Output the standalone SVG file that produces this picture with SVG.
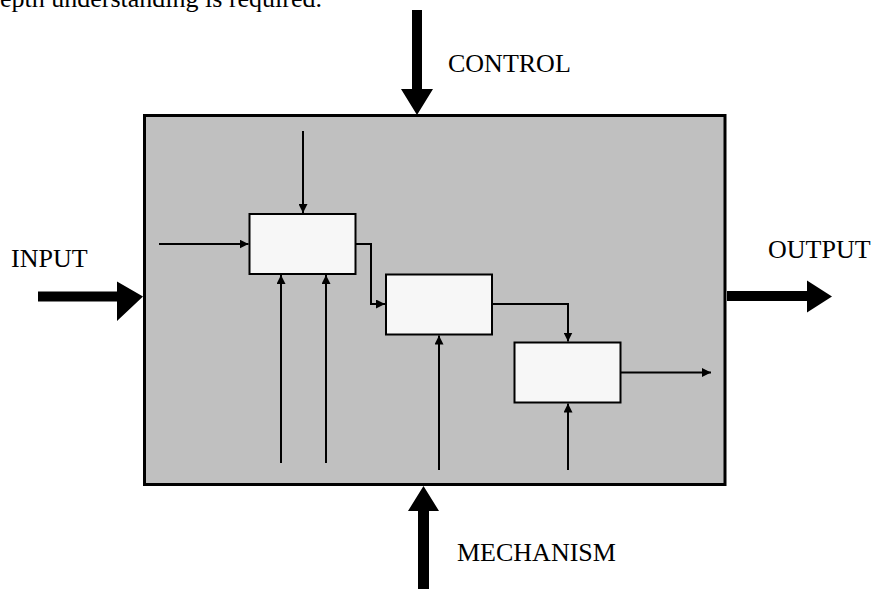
<svg xmlns="http://www.w3.org/2000/svg" width="875" height="589" viewBox="0 0 875 589">
<style>
.t{font-family:"Liberation Serif","Times New Roman",serif;font-size:26px;fill:#000}
.box{fill:#F7F7F7;stroke:#000;stroke-width:2}
.ln{fill:none;stroke:#000;stroke-width:2}
.big{fill:#000;stroke:none}
</style>
<defs>
<marker id="ah" viewBox="0 0 10 10" refX="10" refY="5" markerWidth="9" markerHeight="9" markerUnits="userSpaceOnUse" orient="auto">
<path d="M0,0 L10,5 L0,10 Z" fill="#000"/>
</marker>
</defs>
<rect width="875" height="589" fill="#fff"/>
<text class="t" x="0" y="7">epth understanding is required.</text>
<g id="outer">
<rect x="144.5" y="115.5" width="580.5" height="369" fill="#C0C0C0" stroke="#000" stroke-width="3"/>
</g>
<g id="box1"><rect class="box" x="249.5" y="214" width="106" height="60"/></g>
<g id="box2"><rect class="box" x="386" y="274.5" width="106" height="60"/></g>
<g id="box3"><rect class="box" x="514.5" y="342.5" width="106" height="60"/></g>
<g id="connectors">
<line class="ln" x1="303" y1="131" x2="303" y2="213" marker-end="url(#ah)"/>
<line class="ln" x1="159" y1="244" x2="248.5" y2="244" marker-end="url(#ah)"/>
<polyline class="ln" points="356,244 371,244 371,304 385,304" marker-end="url(#ah)"/>
<line class="ln" x1="281" y1="463" x2="281" y2="275" marker-end="url(#ah)"/>
<line class="ln" x1="326" y1="463" x2="326" y2="275" marker-end="url(#ah)"/>
<line class="ln" x1="439" y1="470" x2="439" y2="335.5" marker-end="url(#ah)"/>
<polyline class="ln" points="492,304 568,304 568,341.5" marker-end="url(#ah)"/>
<line class="ln" x1="568" y1="470" x2="568" y2="403.5" marker-end="url(#ah)"/>
<line class="ln" x1="621" y1="372.5" x2="711" y2="372.5" marker-end="url(#ah)"/>
</g>
<g id="control">
<path class="big" d="M412,10 H422 V89 H433 L417,115 L401,89 H412 Z"/>
<text class="t" x="448" y="72">CONTROL</text>
</g>
<g id="input">
<path class="big" d="M38,291.5 H117 V281.5 L143,296.5 L117,321 V301.5 H38 Z"/>
<text class="t" x="11" y="267">INPUT</text>
</g>
<g id="output">
<path class="big" d="M727,291 H807 V280.5 L832,296.5 L807,312.5 V301 H727 Z"/>
<text class="t" x="768" y="258">OUTPUT</text>
</g>
<g id="mechanism">
<path class="big" d="M418,589 V511 H408 L423.5,486 L439,511 H429 V589 Z"/>
<text class="t" x="457" y="561">MECHANISM</text>
</g>
</svg>
